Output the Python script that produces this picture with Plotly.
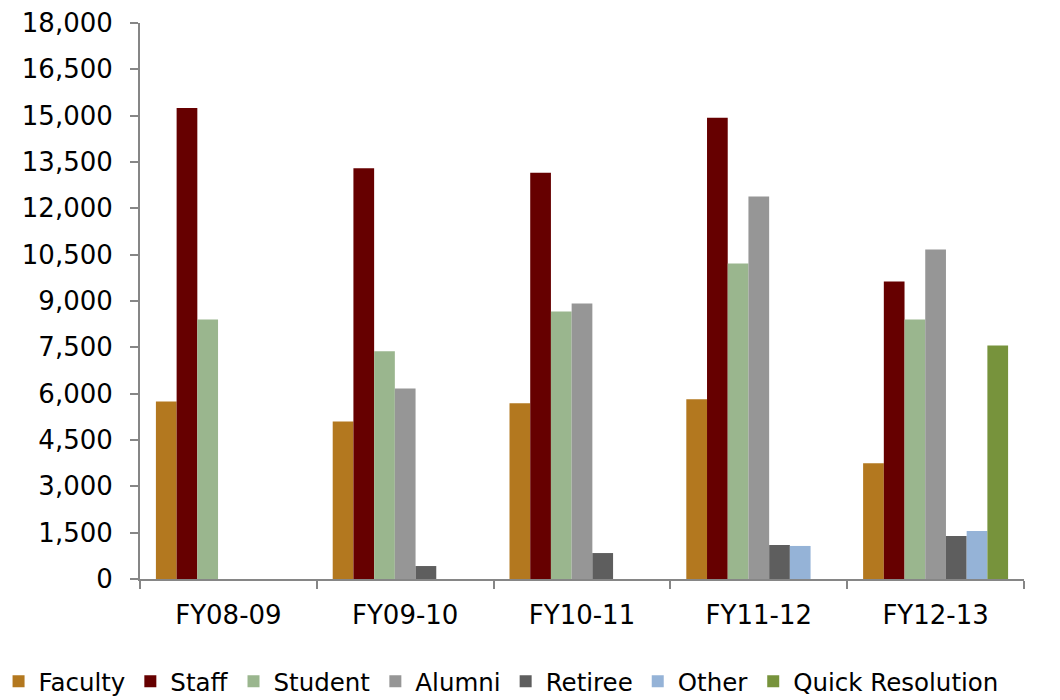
import plotly.graph_objects as go

categories = ["FY08-09", "FY09-10", "FY10-11", "FY11-12", "FY12-13"]
faculty = [5750, 5100, 5690, 5820, 3750]
staff = [15250, 13300, 13150, 14930, 9630]
student = [8400, 7370, 8660, 10210, 8400]
alumni = [None, 6170, 8920, 12380, 10670]
retiree = [None, 420, 840, 1100, 1390]
other = [None, None, None, 1070, 1550]
quick_resolution = [None, None, None, None, 7560]

series = [
    ("Faculty", faculty, "#B3781F"),
    ("Staff", staff, "#660000"),
    ("Student", student, "#9AB68E"),
    ("Alumni", alumni, "#969696"),
    ("Retiree", retiree, "#5E5E5E"),
    ("Other", other, "#95B3D7"),
    ("Quick Resolution", quick_resolution, "#77933C"),
]

fig = go.Figure()
for name, vals, color in series:
    fig.add_trace(go.Bar(name=name, x=categories, y=vals, marker=dict(color=color, line=dict(width=0))))

axis_color = "#868686"
fig.update_layout(
    width=1052, height=692,
    barmode="group", bargap=0.18, bargroupgap=0,
    plot_bgcolor="white", paper_bgcolor="white",
    font=dict(family="DejaVu Sans, Verdana, sans-serif", size=26, color="black"),
    margin=dict(l=132, r=36, t=15, b=121, autoexpand=False),
    legend=dict(orientation="h", x=-0.16, xanchor="left", y=-0.184, yanchor="middle",
                font=dict(size=24.5), itemwidth=30, tracegroupgap=0),
    xaxis=dict(showline=True, linecolor=axis_color, linewidth=2, ticks="outside",
               tickson="boundaries", ticklen=8, tickcolor=axis_color, tickwidth=2,
               showgrid=False, ticklabelstandoff=12),
    yaxis=dict(range=[0, 18000], dtick=1500, tickformat=",", showline=True,
               linecolor=axis_color, linewidth=2, ticks="outside", ticklen=8,
               tickcolor=axis_color, tickwidth=2, showgrid=False, zeroline=False,
               ticklabelstandoff=12, ticklabeloverflow="allow"),
)

fig.write_html("out.html")
